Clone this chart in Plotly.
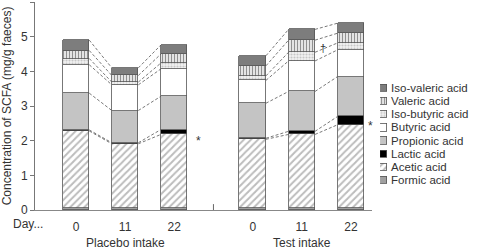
import plotly.graph_objects as go

# ---- data (mg/g faeces) ----
groups = ["Placebo intake", "Test intake"]
days = ["0", "11", "22"]
acids = ["Formic acid", "Acetic acid", "Lactic acid", "Propionic acid",
         "Butyric acid", "Iso-butyric acid", "Valeric acid", "Iso-valeric acid"]
# order of bars: Placebo 0, 11, 22, Test 0, 11, 22
formic = [0.07, 0.06, 0.07, 0.06, 0.06, 0.07]
acetic = [2.21, 1.85, 2.11, 1.98, 2.12, 2.39]
lactic = [0.03, 0.03, 0.14, 0.03, 0.09, 0.24]
propionic = [1.06, 0.93, 0.96, 1.01, 1.15, 1.15]
butyric = [0.82, 0.74, 0.79, 0.66, 0.88, 0.77]
isobutyric = [0.18, 0.08, 0.17, 0.13, 0.25, 0.20]
valeric = [0.23, 0.19, 0.26, 0.29, 0.35, 0.28]
isovaleric = [0.30, 0.22, 0.26, 0.29, 0.31, 0.29]
series = [formic, acetic, lactic, propionic, butyric, isobutyric, valeric, isovaleric]

# ---- styles ----
FONT = "Liberation Sans"
TXT = "#333333"
EDGE = "#555555"
styles = [
    dict(color="#a0a0a0"),
    dict(color="white", pattern=dict(shape="/", fgcolor="#7a7a7a", bgcolor="white", size=5, solidity=0.4)),
    dict(color="black"),
    dict(color="#c4c4c4"),
    dict(color="white"),
    dict(color="#eeeeee", pattern=dict(shape=".", fgcolor="#9a9a9a", bgcolor="#f2f2f2", size=3, solidity=0.4)),
    dict(color="white", pattern=dict(shape="|", fgcolor="#222222", bgcolor="white", size=3, solidity=0.5)),
    dict(color="#7d7d7d"),
]

group_offset = 3.6
bar_w = 0.54
xpos = [g * group_offset + i for g in range(len(groups)) for i in range(len(days))]
ticktext = [d for _ in groups for d in days]

fig = go.Figure()
for name, vals, st in zip(acids, series, styles):
    marker = dict(line=dict(color=EDGE, width=0.8))
    marker.update(st)
    fig.add_trace(go.Bar(x=xpos, y=vals, width=bar_w, name=name, marker=marker,
                         showlegend=False, hoverinfo="skip"))

# cumulative tops for connectors
n = len(xpos)
cum = []
for b in range(n):
    s = 0
    tops = []
    for vals in series:
        s += vals[b]
        tops.append(s)
    cum.append(tops)

lx, ly = [], []
for g in range(len(groups)):
    for i in range(len(days) - 1):
        a = g * len(days) + i
        b = a + 1
        for k in range(1, len(series)):
            lx += [xpos[a] + bar_w / 2, xpos[b] - bar_w / 2, None]
            ly += [cum[a][k], cum[b][k], None]
fig.add_trace(go.Scatter(x=lx, y=ly, mode="lines", line=dict(color="#555555", width=0.8, dash="3px,2px"),
                         showlegend=False, hoverinfo="skip"))

# legend built as a tiny subplot
for name, st in zip(acids, styles):
    marker = dict(line=dict(color=EDGE, width=0.8))
    marker.update(st)
    fig.add_trace(go.Bar(x=[1], y=[name], orientation="h", width=0.55, marker=marker,
                         xaxis="x2", yaxis="y2", showlegend=False, hoverinfo="skip"))

fig.update_layout(
    width=479, height=250,
    margin=dict(l=35, r=5, t=2, b=40),
    paper_bgcolor="white", plot_bgcolor="white",
    barmode="stack", bargap=0,
    showlegend=False,
    font=dict(family=FONT, size=12, color=TXT),
    xaxis=dict(domain=[0, 0.7677], range=[-0.835, 6.03], tickvals=xpos, ticktext=ticktext,
               ticks="", showline=True, linecolor="#888888", linewidth=1, showgrid=False,
               zeroline=False, ticklabelstandoff=6, tickfont=dict(size=12, color=TXT)),
    yaxis=dict(range=[0, 6], tickvals=[0, 1, 2, 3, 4, 5, 6], ticks="outside", ticklen=4,
               tickcolor="#777777", showline=True, linecolor="#777777", linewidth=1,
               showgrid=False, zeroline=False,
               title=dict(text="Concentration of SCFA (mg/g faeces)", font=dict(size=12, color=TXT), standoff=6),
               tickfont=dict(size=12, color=TXT)),
    xaxis2=dict(domain=[0.786, 0.802], range=[0, 1], visible=False, anchor="y2"),
    yaxis2=dict(domain=[0.113, 0.618], type="category", categoryorder="array", categoryarray=acids,
                tickmode="array", tickvals=acids, ticktext=acids, ticklabelstandoff=3,
                range=[-0.5, 7.5], anchor="x2", side="right", ticks="", showline=False,
                showgrid=False, zeroline=False, tickfont=dict(size=11.5, color=TXT)),
    shapes=[dict(type="line", xref="x", yref="y", x0=2.8, x1=2.8, y0=0, y1=0.17,
                 line=dict(color="#666666", width=1))],
    annotations=[
        dict(text="Day...", xref="paper", yref="paper", x=-0.016, y=-0.067, showarrow=False,
             xanchor="center", yanchor="middle", font=dict(size=12, color=TXT)),
        dict(text=groups[0], xref="x", yref="paper", x=1, y=-0.159, showarrow=False,
             xanchor="center", yanchor="middle", font=dict(size=12, color=TXT)),
        dict(text=groups[1], xref="x", yref="paper", x=1 + group_offset, y=-0.159, showarrow=False,
             xanchor="center", yanchor="middle", font=dict(size=12, color=TXT)),
        dict(text="*", xref="x", yref="y", x=2.5, y=2.0, showarrow=False, font=dict(size=12, color=TXT)),
        dict(text="*", xref="x", yref="y", x=5.99, y=2.42, showarrow=False, font=dict(size=12, color=TXT)),
        dict(text="†", xref="x", yref="y", x=5.03, y=4.66, showarrow=False, font=dict(size=11, color=TXT)),
    ],
)

fig.write_html("out.html")
